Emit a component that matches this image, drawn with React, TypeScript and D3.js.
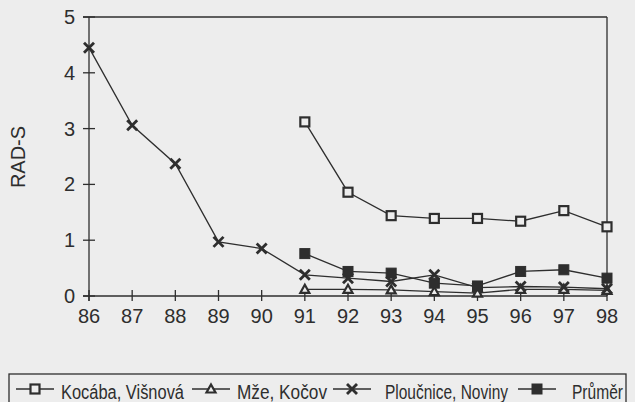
import React from "react";
import * as d3 from "d3";

const years = [86, 87, 88, 89, 90, 91, 92, 93, 94, 95, 96, 97, 98];
const kocaba: (number | null)[] = [null, null, null, null, null, 3.12, 1.86, 1.44, 1.39, 1.39, 1.34, 1.53, 1.24];
const mze: (number | null)[] = [null, null, null, null, null, 0.12, 0.12, 0.11, 0.08, 0.05, 0.12, 0.12, 0.1];
const ploucnice: (number | null)[] = [4.45, 3.06, 2.37, 0.97, 0.85, 0.38, 0.32, 0.26, 0.38, 0.15, 0.17, 0.16, 0.13];
const prumer: (number | null)[] = [null, null, null, null, null, 0.76, 0.44, 0.41, 0.23, 0.18, 0.44, 0.47, 0.32];
const yTicks = [0, 1, 2, 3, 4, 5];
const seriesNames = ["Kocába, Višnová", "Mže, Kočov", "Ploučnice, Noviny", "Průměr"];

const W = 635, H = 402;
const BG = "#ededed";
const INK = "#2e2e2e";
const FONT = "'Liberation Sans', Arial, sans-serif";

type MarkerKind = "square" | "triangle" | "cross" | "filled";

function Marker({ kind, x, y }: { kind: MarkerKind; x: number; y: number }) {
  if (kind === "square")
    return <rect x={x - 4.5} y={y - 4.5} width={9} height={9} fill={BG} stroke={INK} strokeWidth={2.2} />;
  if (kind === "filled")
    return <rect x={x - 5} y={y - 5} width={10} height={10} fill={INK} stroke={INK} strokeWidth={1} />;
  if (kind === "triangle")
    return <path d={`M${x},${y - 4.5}L${x + 4.5},${y + 3.5}L${x - 4.5},${y + 3.5}Z`} fill={BG} stroke={INK} strokeWidth={2.2} />;
  return (
    <g stroke={INK} strokeWidth={2.8} strokeLinecap="butt">
      <line x1={x - 5} y1={y - 5} x2={x + 5} y2={y + 5} />
      <line x1={x - 5} y1={y + 5} x2={x + 5} y2={y - 5} />
    </g>
  );
}

export default function App() {
  const x = d3.scaleLinear().domain([86, 98]).range([89, 607]);
  const y = d3.scaleLinear().domain([0, 5]).range([296, 17]);

  const series: { values: (number | null)[]; kind: MarkerKind }[] = [
    { values: kocaba, kind: "square" },
    { values: mze, kind: "triangle" },
    { values: ploucnice, kind: "cross" },
    { values: prumer, kind: "filled" },
  ];

  const line = d3
    .line<number | null>()
    .defined((d) => d !== null)
    .x((_, i) => x(years[i]))
    .y((d) => y(d as number));

  const legendItems = [
    { sym: 16, text: 61, width: 123 },
    { sym: 192, text: 237, width: 90 },
    { sym: 333, text: 385, width: 123 },
    { sym: 518, text: 572, width: 51 },
  ];

  return (
    <svg width={W} height={H} style={{ position: "fixed", left: 0, top: 0 }} fontFamily={FONT}>
      <rect x={0} y={0} width={W} height={H} fill={BG} />
      {/* frame */}
      <g stroke={INK} strokeWidth={1.3} fill="none">
        <line x1={83} y1={y(5)} x2={x(98)} y2={y(5)} />
        <line x1={x(98)} y1={y(5)} x2={x(98)} y2={y(0)} />
        <line x1={x(86)} y1={y(5)} x2={x(86)} y2={y(0) + 5} />
        <line x1={x(86) - 6} y1={y(0)} x2={x(98)} y2={y(0)} />
        {yTicks.map((t) => (
          <line key={t} x1={x(86) - 6} x2={x(86) + 6} y1={y(t)} y2={y(t)} />
        ))}
        {years.map((t) => (
          <line key={t} x1={x(t)} x2={x(t)} y1={y(0) - 6} y2={y(0) + 5} />
        ))}
      </g>
      {/* tick labels */}
      <g fill={INK} fontSize={20}>
        {yTicks.map((t) => (
          <text key={t} x={75} y={y(t) + 7} textAnchor="end">{t}</text>
        ))}
        {years.map((t) => (
          <text key={t} x={x(t)} y={323} textAnchor="middle">{t}</text>
        ))}
        <text transform="translate(25,157) rotate(-90)" textAnchor="middle" fontSize={20}>RAD-S</text>
      </g>
      {/* series */}
      {series.map((s, si) => (
        <path key={si} d={line(s.values) || ""} fill="none" stroke={INK} strokeWidth={1.3} />
      ))}
      {series.map((s, si) => (
        <g key={si}>
          {s.values.map((v, i) =>
            v === null ? null : <Marker key={i} kind={s.kind} x={x(years[i])} y={y(v)} />
          )}
        </g>
      ))}
      {/* legend */}
      <rect x={9} y={374} width={617} height={40} fill="none" stroke={INK} strokeWidth={1.3} />
      {legendItems.map((it, i) => (
        <g key={i}>
          <line x1={it.sym} x2={it.sym + 38} y1={389} y2={389} stroke={INK} strokeWidth={1.3} />
          <Marker kind={series[i].kind} x={it.sym + 19} y={389} />
          <text x={it.text} y={399} fontSize={19.5} fill={INK} textLength={it.width} lengthAdjust="spacingAndGlyphs">
            {seriesNames[i]}
          </text>
        </g>
      ))}
    </svg>
  );
}
